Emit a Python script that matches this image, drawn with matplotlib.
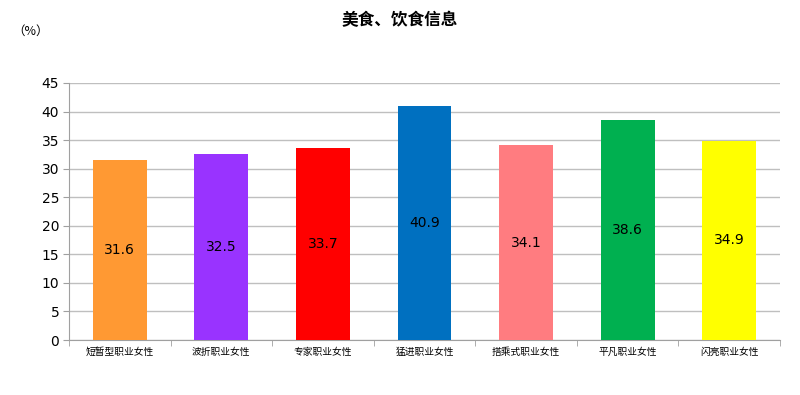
import matplotlib
matplotlib.use("Agg")
import matplotlib.pyplot as plt
import numpy as np

plt.rcParams['font.family'] = ['Noto Sans CJK SC', 'DejaVu Sans']

categories = ["短暂型职业女性", "波折职业女性", "专家职业女性", "猛进职业女性",
              "搭乘式职业女性", "平凡职业女性", "闪亮职业女性"]
values = [31.6, 32.5, 33.7, 40.9, 34.1, 38.6, 34.9]
colors = ["#FF9933", "#9933FF", "#FF0000", "#0070C0", "#FF7C80", "#00B050", "#FFFF00"]
yticks = [0, 5, 10, 15, 20, 25, 30, 35, 40, 45]

fig = plt.figure(figsize=(8, 3.95), dpi=100)
ax = fig.add_axes([69/800, 55/395, 711/800, 257/395])

x = np.arange(len(categories))
bars = ax.bar(x, values, width=0.53, color=colors, zorder=3)
for xi, v in zip(x, values):
    ax.text(xi, v / 2, f"{v:.1f}", ha='center', va='center', fontsize=10,
            family='DejaVu Sans', zorder=4)

ax.set_xlim(-0.5, len(categories) - 0.5)
ax.set_ylim(0, 45)
ax.set_yticks(yticks)
ax.set_yticklabels([str(t) for t in yticks], family='DejaVu Sans', fontsize=10)
ax.yaxis.grid(True, color='#BFBFBF', linewidth=1, zorder=0)
ax.set_axisbelow(True)

ax.set_xticks(x)
ax.set_xticklabels(categories, fontsize=7)
ax.tick_params(axis='x', length=0, pad=5)
ax.set_xticks(np.arange(-0.5, len(categories) + 0.5, 1), minor=True)
ax.tick_params(axis='x', which='minor', length=4, color='#A0A0A0', direction='out')
ax.tick_params(axis='y', length=4, color='#A0A0A0', pad=3)

for s in ['top', 'right']:
    ax.spines[s].set_visible(False)
ax.spines['left'].set_color('#A0A0A0')
ax.spines['bottom'].set_color('#A0A0A0')

fig.text(0.5, 1 - 20/395, "美食、饮食信息", ha='center', va='center',
         fontsize=12, fontweight='bold')
fig.text(12/800, 1 - 31/395, "（%）", ha='left', va='center', fontsize=9)

fig.savefig("out.png", dpi=100)
